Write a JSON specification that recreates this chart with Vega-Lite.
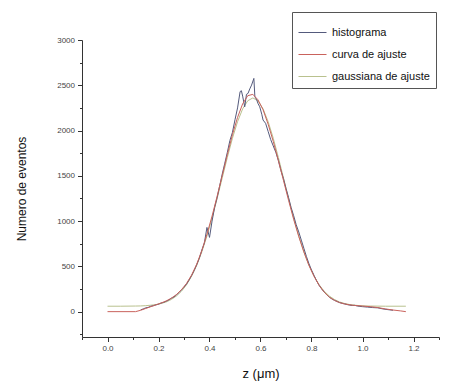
{
  "$schema": "https://vega.github.io/schema/vega-lite/v6.json",
  "width": 357,
  "height": 297,
  "autosize": "none",
  "padding": {"left": 82, "top": 40, "right": 19, "bottom": 46},
  "background": "white",
  "config": {"view": {"stroke": null}, "font": "Liberation Sans"},
  "datasets": {
    "hist": [
      {"z":0.13,"n":20},{"z":0.14,"n":30},{"z":0.15,"n":42},{"z":0.16,"n":48},{"z":0.17,"n":60},{"z":0.18,"n":66},{"z":0.19,"n":75},{"z":0.20,"n":82},{"z":0.21,"n":95},{"z":0.22,"n":102},{"z":0.23,"n":115},{"z":0.24,"n":128},{"z":0.25,"n":148},{"z":0.26,"n":160},{"z":0.27,"n":185},{"z":0.28,"n":210},{"z":0.29,"n":240},{"z":0.30,"n":270},{"z":0.31,"n":305},{"z":0.32,"n":350},{"z":0.33,"n":400},{"z":0.34,"n":455},{"z":0.35,"n":520},{"z":0.36,"n":590},{"z":0.37,"n":680},{"z":0.38,"n":760},{"z":0.39,"n":930},{"z":0.40,"n":820},{"z":0.41,"n":1000},{"z":0.42,"n":1150},{"z":0.43,"n":1260},{"z":0.44,"n":1390},{"z":0.45,"n":1520},{"z":0.46,"n":1640},{"z":0.47,"n":1760},{"z":0.48,"n":1890},{"z":0.49,"n":1980},{"z":0.50,"n":2120},{"z":0.51,"n":2250},{"z":0.52,"n":2430},{"z":0.525,"n":2440},{"z":0.53,"n":2380},{"z":0.538,"n":2262},{"z":0.545,"n":2400},{"z":0.551,"n":2410},{"z":0.558,"n":2460},{"z":0.565,"n":2502},{"z":0.574,"n":2576},{"z":0.578,"n":2373},{"z":0.585,"n":2340},{"z":0.59,"n":2300},{"z":0.597,"n":2262},{"z":0.605,"n":2180},{"z":0.61,"n":2116},{"z":0.62,"n":2080},{"z":0.63,"n":1990},{"z":0.64,"n":1900},{"z":0.65,"n":1830},{"z":0.66,"n":1760},{"z":0.67,"n":1670},{"z":0.68,"n":1560},{"z":0.69,"n":1470},{"z":0.70,"n":1360},{"z":0.71,"n":1260},{"z":0.72,"n":1150},{"z":0.73,"n":1060},{"z":0.74,"n":960},{"z":0.75,"n":880},{"z":0.76,"n":790},{"z":0.77,"n":700},{"z":0.78,"n":610},{"z":0.79,"n":530},{"z":0.80,"n":460},{"z":0.81,"n":400},{"z":0.82,"n":340},{"z":0.83,"n":290},{"z":0.84,"n":250},{"z":0.85,"n":215},{"z":0.86,"n":185},{"z":0.87,"n":160},{"z":0.88,"n":140},{"z":0.89,"n":125},{"z":0.90,"n":112},{"z":0.91,"n":100},{"z":0.92,"n":92},{"z":0.93,"n":85},{"z":0.94,"n":78},{"z":0.95,"n":72},{"z":0.96,"n":68},{"z":0.97,"n":70},{"z":0.98,"n":62},{"z":0.99,"n":58},{"z":1.00,"n":55},{"z":1.02,"n":50},{"z":1.04,"n":45},{"z":1.06,"n":42},{"z":1.08,"n":30},{"z":1.10,"n":22},{"z":1.12,"n":15}
    ],
    "fit": [
      {"z":0.00,"n":0},{"z":0.11,"n":0},{"z":0.13,"n":15},{"z":0.15,"n":35},{"z":0.17,"n":55},{"z":0.19,"n":75},{"z":0.21,"n":95},{"z":0.23,"n":118},{"z":0.25,"n":148},{"z":0.27,"n":188},{"z":0.29,"n":242},{"z":0.31,"n":312},{"z":0.33,"n":405},{"z":0.35,"n":525},{"z":0.37,"n":675},{"z":0.39,"n":855},{"z":0.41,"n":1055},{"z":0.43,"n":1275},{"z":0.45,"n":1505},{"z":0.47,"n":1735},{"z":0.49,"n":1955},{"z":0.51,"n":2145},{"z":0.53,"n":2295},{"z":0.55,"n":2385},{"z":0.57,"n":2400},{"z":0.59,"n":2340},{"z":0.61,"n":2230},{"z":0.63,"n":2070},{"z":0.65,"n":1880},{"z":0.67,"n":1670},{"z":0.69,"n":1450},{"z":0.71,"n":1230},{"z":0.73,"n":1020},{"z":0.75,"n":830},{"z":0.77,"n":660},{"z":0.79,"n":510},{"z":0.81,"n":390},{"z":0.83,"n":290},{"z":0.85,"n":215},{"z":0.87,"n":160},{"z":0.89,"n":125},{"z":0.91,"n":100},{"z":0.93,"n":85},{"z":0.95,"n":75},{"z":0.97,"n":68},{"z":1.00,"n":62},{"z":1.03,"n":55},{"z":1.06,"n":45},{"z":1.09,"n":30},{"z":1.12,"n":18},{"z":1.15,"n":8},{"z":1.17,"n":0}
    ],
    "gauss": [
      {"z":0.00,"n":60},{"z":0.05,"n":60},{"z":0.11,"n":62},{"z":0.13,"n":63},{"z":0.15,"n":66},{"z":0.17,"n":71},{"z":0.19,"n":78},{"z":0.21,"n":90},{"z":0.23,"n":107},{"z":0.25,"n":134},{"z":0.27,"n":172},{"z":0.29,"n":225},{"z":0.31,"n":297},{"z":0.33,"n":392},{"z":0.35,"n":512},{"z":0.37,"n":660},{"z":0.39,"n":835},{"z":0.41,"n":1033},{"z":0.43,"n":1251},{"z":0.45,"n":1478},{"z":0.47,"n":1704},{"z":0.49,"n":1915},{"z":0.51,"n":2098},{"z":0.53,"n":2240},{"z":0.55,"n":2329},{"z":0.57,"n":2360},{"z":0.59,"n":2329},{"z":0.61,"n":2240},{"z":0.63,"n":2098},{"z":0.65,"n":1915},{"z":0.67,"n":1704},{"z":0.69,"n":1478},{"z":0.71,"n":1251},{"z":0.73,"n":1033},{"z":0.75,"n":835},{"z":0.77,"n":660},{"z":0.79,"n":512},{"z":0.81,"n":392},{"z":0.83,"n":297},{"z":0.85,"n":225},{"z":0.87,"n":172},{"z":0.89,"n":134},{"z":0.91,"n":107},{"z":0.93,"n":90},{"z":0.95,"n":78},{"z":0.97,"n":71},{"z":0.99,"n":66},{"z":1.01,"n":63},{"z":1.03,"n":62},{"z":1.09,"n":60},{"z":1.17,"n":60}
    ]
  },
  "encoding": {
    "x": {
      "field": "z", "type": "quantitative",
      "scale": {"domain": [-0.1, 1.3], "nice": false, "zero": false},
      "axis": {
        "title": "z (\u03bcm)",
        "values": [-0.1,0,0.1,0.2,0.3,0.4,0.5,0.6,0.7,0.8,0.9,1.0,1.1,1.2,1.3],
        "format": ".1f",
        "labelExpr": "abs(round(datum.value*10)) % 2 == 0 && datum.value > -0.05 && datum.value < 1.25 ? datum.label : ''",
        "grid": false,
        "domainColor": "#333", "domainWidth": 1,
        "tickColor": "#333", "tickWidth": 1, "tickSize": 4.5,
        "tickDash": {"condition": {"test": "abs(round(datum.value*10)) % 2 == 1", "value": [2.5, 10]}, "value": [10, 0]},
        "labelFontSize": 8, "labelColor": "#444", "labelPadding": 3,
        "titleFontSize": 13, "titleFontWeight": "normal", "titleColor": "#111",
        "titlePadding": 15
      }
    },
    "y": {
      "field": "n", "type": "quantitative",
      "scale": {"domain": [-280, 3000], "nice": false, "zero": false},
      "axis": {
        "title": "Numero de eventos",
        "values": [-250,0,250,500,750,1000,1250,1500,1750,2000,2250,2500,2750,3000],
        "format": "d",
        "labelExpr": "datum.value % 500 == 0 ? datum.label : ''",
        "grid": false,
        "domainColor": "#333", "domainWidth": 1,
        "tickColor": "#333", "tickWidth": 1, "tickSize": 4.5,
        "tickDash": {"condition": {"test": "datum.value % 500 != 0", "value": [2.5, 10]}, "value": [10, 0]},
        "labelFontSize": 8, "labelColor": "#444", "labelPadding": 3,
        "titleFontSize": 12, "titleFontWeight": "normal", "titleColor": "#111",
        "titlePadding": 28
      }
    },
    "color": {
      "field": "serie", "type": "nominal",
      "scale": {"domain": ["histograma", "curva de ajuste", "gaussiana de ajuste"], "range": ["#545a7c", "#c9625c", "#b9c18e"]},
      "legend": {
        "title": null,
        "orient": "none",
        "legendX": 210,
        "legendY": -28,
        "direction": "vertical",
        "fillColor": "white",
        "strokeColor": "#555",
        "padding": 6,
        "symbolType": "stroke",
        "symbolSize": 784,
        "symbolStrokeWidth": 1,
        "labelFontSize": 11,
        "labelColor": "#111",
        "labelOffset": 5,
        "labelLimit": 300,
        "rowPadding": 2
      }
    }
  },
  "layer": [
    {
      "data": {"name": "gauss"},
      "transform": [{"calculate": "'gaussiana de ajuste'", "as": "serie"}],
      "mark": {"type": "line", "strokeWidth": 1}
    },
    {
      "data": {"name": "hist"},
      "transform": [{"calculate": "'histograma'", "as": "serie"}],
      "mark": {"type": "line", "strokeWidth": 1}
    },
    {
      "data": {"name": "fit"},
      "transform": [{"calculate": "'curva de ajuste'", "as": "serie"}],
      "mark": {"type": "line", "strokeWidth": 1}
    }
  ]
}
